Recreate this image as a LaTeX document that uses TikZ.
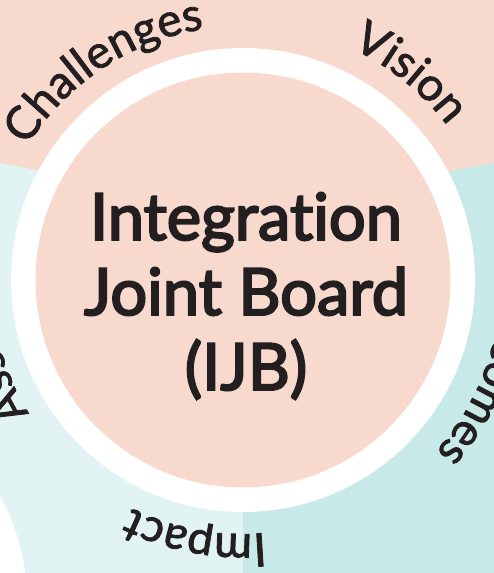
\documentclass[tikz,border=0pt]{standalone}
\usepackage{fontspec}
\setmainfont{Lato}[Ligatures=CommonOff]
\newfontfamily\arcface{Lato}[FakeBold=1.8,Ligatures=CommonOff]
\newfontfamily\titleface{Lato}[FakeBold=3.2,Ligatures=CommonOff]
\usetikzlibrary{decorations.text}
\definecolor{peach}{HTML}{F8D9CE}
\definecolor{lightteal}{HTML}{E2F3F3}
\definecolor{darkteal}{HTML}{C7E9E7}
\definecolor{ink}{HTML}{231F20}
\newcommand{\arcfont}{\arcface\fontsize{46}{46}\selectfont}
\tikzset{
  x=1pt,y=1pt,
  arclabel/.style={decorate,decoration={text along path,text align=center,
    text color=ink,text={|\arcfont|#1}}},
  centrelabel/.style={align=center,text=ink,font=\titleface\fontsize{65}{75}\selectfont,inner sep=0pt}
}
\begin{document}
\begin{tikzpicture}
\useasboundingbox (0,0) rectangle (494,-573);
\clip (0,0) rectangle (494,-573);
\coordinate (c) at (243,-280);
\fill[lightteal] (0,0) rectangle (243,-573);
\fill[darkteal] (243,0) rectangle (494,-573);
\fill[peach] (0,0) -- (494,0) -- (494,-163) .. controls (440,-172) and (420,-178) .. (400,-180)
  -- (90,-180) .. controls (70,-178) and (50,-172) .. (0,-163) -- cycle;
\fill[white] (0,-497) .. controls (14,-520) and (22,-548) .. (25,-573) -- (0,-573) -- cycle;
\fill[white] (c) circle (232);
\fill[peach] (c) circle (207.5);
\node[centrelabel] (title) at (246,-296) {Integration\\Joint Board\\(IJB)};
\path[arclabel={Challenges}] (c) ++(154:254) arc (154:93:254);
\path[arclabel={Vision}] (c) ++(73:256) arc (73:29:256);
\path[arclabel={Impact}] (c) ++(-72:254) arc (-72:-129:254);
\path[arclabel={Outcomes}] (c) ++(26.5:258) arc (26.5:-63.5:258);
\path[arclabel={Assets}] (c) ++(229:252) arc (229:165:252);
\end{tikzpicture}
\end{document}
